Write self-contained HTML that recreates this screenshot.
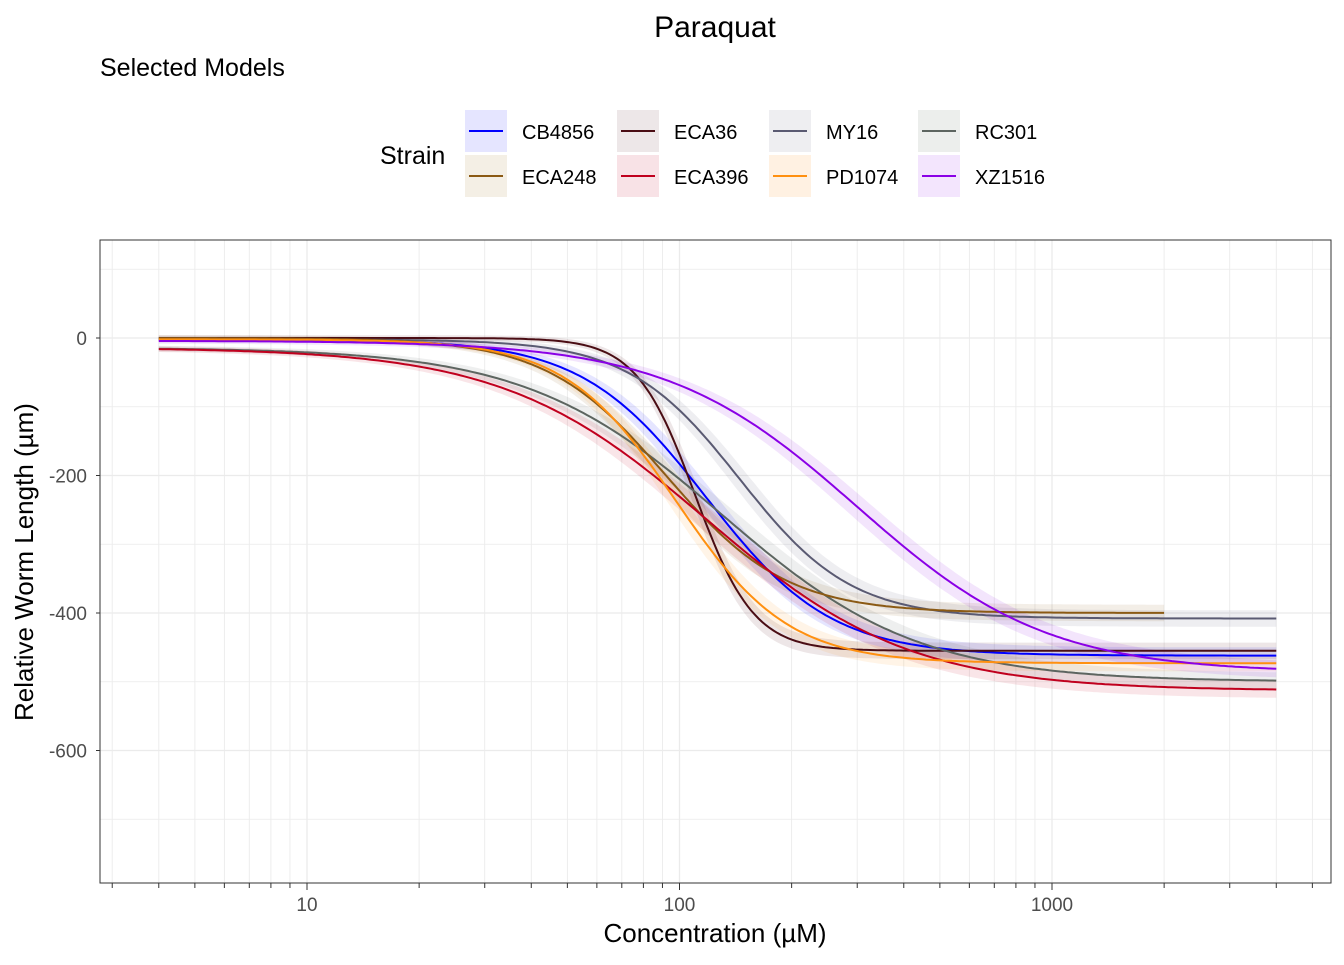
<!DOCTYPE html>
<html><head><meta charset="utf-8"><style>
body{margin:0;background:#fff;font-family:"Liberation Sans",sans-serif}
</style></head><body>
<svg id="chart" width="1344" height="960" xmlns="http://www.w3.org/2000/svg" font-family="Liberation Sans, sans-serif">
<text x="715" y="37" font-size="30" text-anchor="middle">Paraquat</text>
<text x="100" y="76" font-size="25">Selected Models</text>
<text x="380" y="164" font-size="25">Strain</text>
<g id="legend"></g>
<g id="grid"></g>
<g id="ribbons"></g>
<g id="lines"></g>
<rect x="100" y="240" width="1231" height="643" fill="none" stroke="#333" stroke-width="1"/>
<g id="axes"></g>
<text x="715" y="942" font-size="26" text-anchor="middle">Concentration (µM)</text>
<text transform="translate(33,562) rotate(-90)" font-size="26" text-anchor="middle">Relative Worm Length (µm)</text>
</svg>
<script>
const strains=["CB4856","ECA36","MY16","RC301","ECA248","ECA396","PD1074","XZ1516"];
const colors=["#0000ff","#4a0d14","#5a5a72","#5d6560","#8b5a14","#c0001e","#ff9010","#8a00e6"];
const fills=["#e5e5ff","#ede7e8","#eeeef1","#eceeec","#f4efe5","#f8e2e6","#fff1e2","#f3e5fd"];
const tops=[-2,0,-2,-14,0,-14,-2,-4];
const bottoms=[-462,-455,-408,-500,-400,-513,-473,-487];
const ec50=[118,110,145,130,92,118,98,300];
const slopes=[2.6,5.5,2.9,1.65,2.7,1.6,2.9,1.7];
const xmaxs=[4000,4000,4000,4000,2000,4000,4000,4000];
const xTicks=[10,100,1000];
const yTicks=[0,-200,-400,-600];
const NS="http://www.w3.org/2000/svg";
const L=100,R=1331,T=240,B=883;
const xs=v=>307+(Math.log10(v)-1)*372.5;
const ys=v=>338-v*0.6875;
function mk(t,a,p){const e=document.createElementNS(NS,t);for(const k in a)e.setAttribute(k,a[k]);p.appendChild(e);return e;}
const grid=document.getElementById('grid'),axes=document.getElementById('axes');
mk('rect',{x:L,y:T,width:R-L,height:B-T,fill:'#fff'},grid);
for(let v=100;v>=-700;v-=100){const l=mk('line',{x1:L,x2:R,y1:ys(v),y2:ys(v),stroke:'#ebebeb','stroke-width':v%200===0?1.3:0.7},grid);

}
for(let d=1;d<=1000;d*=10)for(let m=1;m<=9;m++){const v=d*m;const x=xs(v);if(x<L||x>R)continue;
const l=mk('line',{x1:x,x2:x,y1:T,y2:B,stroke:'#ebebeb','stroke-width':m===1?1.3:0.9},grid);


const tk=mk('line',{x1:x,x2:x,y1:B,y2:B+(m===1?7:5),stroke:'#333'},axes);

}
xTicks.forEach(v=>{const t=mk('text',{x:xs(v),y:B+28,'font-size':19,'text-anchor':'middle',fill:'#4d4d4d'},axes);t.textContent=v;

});
yTicks.forEach(v=>{const t=mk('text',{x:L-13,y:ys(v)+7,'font-size':19,'text-anchor':'end',fill:'#4d4d4d'},axes);t.textContent=v;


mk('line',{x1:L-4,x2:L,y1:ys(v),y2:ys(v),stroke:'#333'},axes);});
const f=(i,x)=>tops[i]+(bottoms[i]-tops[i])/(1+Math.pow(ec50[i]/x,slopes[i]));
const rib=document.getElementById('ribbons'),lines=document.getElementById('lines');
strains.forEach((s,i)=>{let up=[],dn=[],ln=[];
for(let k=0;k<=300;k++){const lx=Math.log10(4)+(Math.log10(xmaxs[i])-Math.log10(4))*k/300;const x=Math.pow(10,lx);const y=f(i,x);
const frac=(y-tops[i])/(bottoms[i]-tops[i]);const w=4+12*Math.sin(Math.PI*Math.min(1,frac))+8*frac;
ln.push(xs(x).toFixed(1)+','+ys(y).toFixed(1));up.push(xs(x).toFixed(1)+','+ys(y+w).toFixed(1));dn.unshift(xs(x).toFixed(1)+','+ys(y-w).toFixed(1));}
const p=mk('polygon',{points:up.concat(dn).join(' '),fill:colors[i],'fill-opacity':0.1},rib);


const pl=mk('polyline',{points:ln.join(' '),fill:'none',stroke:colors[i],'stroke-width':2},lines);

});
const leg=document.getElementById('legend');
strains.forEach((s,i)=>{const col=i%4,row=Math.floor(i/4);const x=465+col*152-(col===3?3:0),y=110+row*45;
const g=mk('g',{},leg);


mk('rect',{x:x,y:y,width:42,height:42,fill:fills[i]},g);
mk('line',{x1:x+4,x2:x+38,y1:y+21,y2:y+21,stroke:colors[i],'stroke-width':2},g);
const t=mk('text',{x:x+57,y:y+29,'font-size':20},g);t.textContent=s;});
</script>
</body></html>
